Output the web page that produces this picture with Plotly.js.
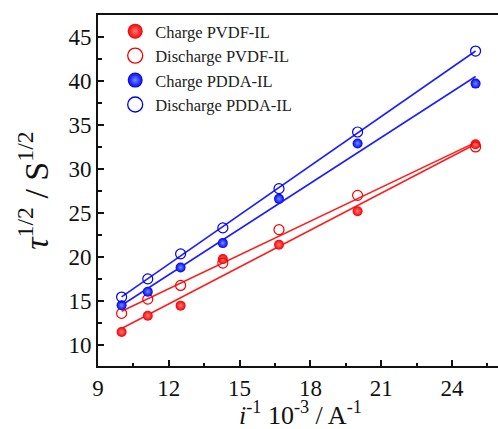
<!DOCTYPE html>
<html>
<head>
<meta charset="utf-8">
<script src="https://cdn.plot.ly/plotly-3.0.1.min.js"></script>
<style>html,body{margin:0;padding:0;background:#fff;}#chart{width:498px;height:429px;}</style>
</head>
<body>
<div id="chart"></div>
<script>
// 1/i values (10^-3 A^-1)
var invCurrent = [10, 11.11, 12.5, 14.29, 16.67, 20, 25];
// tau^1/2 values (s^1/2)
var chargePVDF = [11.47, 13.32, 14.46, 19.75, 21.38, 25.2, 32.8];
var dischargePVDF = [13.58, 15.2, 16.76, 19.3, 23.1, 27.0, 32.5];
var chargePDDA = [14.5, 16.05, 18.8, 21.57, 26.6, 32.9, 39.7];
var dischargePDDA = [15.44, 17.5, 20.35, 23.3, 27.76, 34.2, 43.4];
var seriesNames = ['Charge PVDF-IL', 'Discharge PVDF-IL', 'Charge PDDA-IL', 'Discharge PDDA-IL'];
var xTitle = '<i>i</i><sup>-1</sup> 10<sup>-3</sup> / A<sup>-1</sup>';
var yTitle = '<i>τ</i><sup>1/2</sup> / S<sup>1/2</sup>';

var RED = 'rgb(245,0,0)', BLUE = 'rgb(0,0,240)';
var LRED = 'rgb(255,30,30)', LBLUE = 'rgb(30,30,255)';

function fit(x, y) {
  var n = x.length, mx = 0, my = 0;
  for (var i = 0; i < n; i++) { mx += x[i]; my += y[i]; }
  mx /= n; my /= n;
  var sxx = 0, sxy = 0;
  for (var j = 0; j < n; j++) { sxx += (x[j]-mx)*(x[j]-mx); sxy += (x[j]-mx)*(y[j]-my); }
  var b = sxy / sxx, a = my - b*mx;
  var x0 = Math.min.apply(null, x), x1 = Math.max.apply(null, x);
  return {x: [x0, x1], y: [a + b*x0, a + b*x1]};
}

var styles = [
  {data: chargePVDF, filled: true, color: RED, grad: 'rgb(255,120,120)', line: LRED},
  {data: dischargePVDF, filled: false, color: RED, line: LRED},
  {data: chargePDDA, filled: true, color: BLUE, grad: 'rgb(110,140,255)', line: LBLUE},
  {data: dischargePDDA, filled: false, color: BLUE, line: LBLUE}
];

var traces = [];
styles.forEach(function(s) {
  var f = fit(invCurrent, s.data);
  traces.push({x: f.x, y: f.y, mode: 'lines', line: {color: s.line, width: 1.6}, showlegend: false, hoverinfo: 'skip'});
});
styles.forEach(function(s, k) {
  var mk = s.filled ?
    {symbol: 'circle', size: 10, color: s.color, gradient: {type: 'radial', color: s.grad}, line: {width: 0}} :
    {symbol: 'circle-open', size: 10, color: s.color, line: {width: 1.2, color: s.color}};
  traces.push({x: invCurrent, y: s.data, mode: 'markers', marker: mk, showlegend: false, name: seriesNames[k]});
});
styles.forEach(function(s, k) {
  var mk = s.filled ?
    {symbol: 'circle', size: 15, color: s.color, gradient: {type: 'radial', color: s.grad}, line: {width: 0}} :
    {symbol: 'circle-open', size: 15, color: s.color, line: {width: 1.3, color: s.color}};
  traces.push({x: [null], y: [null], mode: 'markers', marker: mk, name: seriesNames[k], showlegend: true});
});

var serif = 'Liberation Serif, Times New Roman, serif';
var tickFont = {family: serif, size: 23, color: '#111'};
var layout = {
  width: 498, height: 429,
  margin: {l: 98, r: 0, t: 15, b: 63},
  paper_bgcolor: '#fff', plot_bgcolor: '#fff',
  showlegend: true,
  legend: {x: 0.043, y: 1.003, xanchor: 'left', yanchor: 'top', bgcolor: 'rgba(0,0,0,0)', borderwidth: 0,
           font: {family: serif, size: 16.5, color: '#222'}, tracegroupgap: 0},
  xaxis: {
    range: [9, 25.95], tick0: 9, dtick: 3, ticks: 'inside', ticklen: 6, tickwidth: 2, tickcolor: '#111',
    minor: {ticks: 'inside', dtick: 1.5, tick0: 9, ticklen: 3.5, tickwidth: 2, tickcolor: '#111'},
    showline: true, linewidth: 2, linecolor: '#111', mirror: true, showgrid: false, zeroline: false,
    tickfont: tickFont
  },
  yaxis: {
    range: [7.6, 47.5], tick0: 10, dtick: 5, ticks: 'inside', ticklen: 6, tickwidth: 2, tickcolor: '#111',
    minor: {ticks: 'inside', dtick: 2.5, tick0: 10, ticklen: 3.5, tickwidth: 2, tickcolor: '#111'},
    showline: true, linewidth: 2, linecolor: '#111', showgrid: false, zeroline: false,
    tickfont: tickFont,
    title: {text: yTitle, font: {family: serif, size: 34, color: '#111'}, standoff: 10}
  },
  annotations: [{
    text: xTitle, xref: 'paper', yref: 'paper', x: 0.505, y: -0.135, xanchor: 'center', yanchor: 'middle',
    showarrow: false, font: {family: serif, size: 26, color: '#111'}
  }]
};

Plotly.newPlot('chart', traces, layout, {displayModeBar: false, staticPlot: true});
</script>
</body>
</html>
